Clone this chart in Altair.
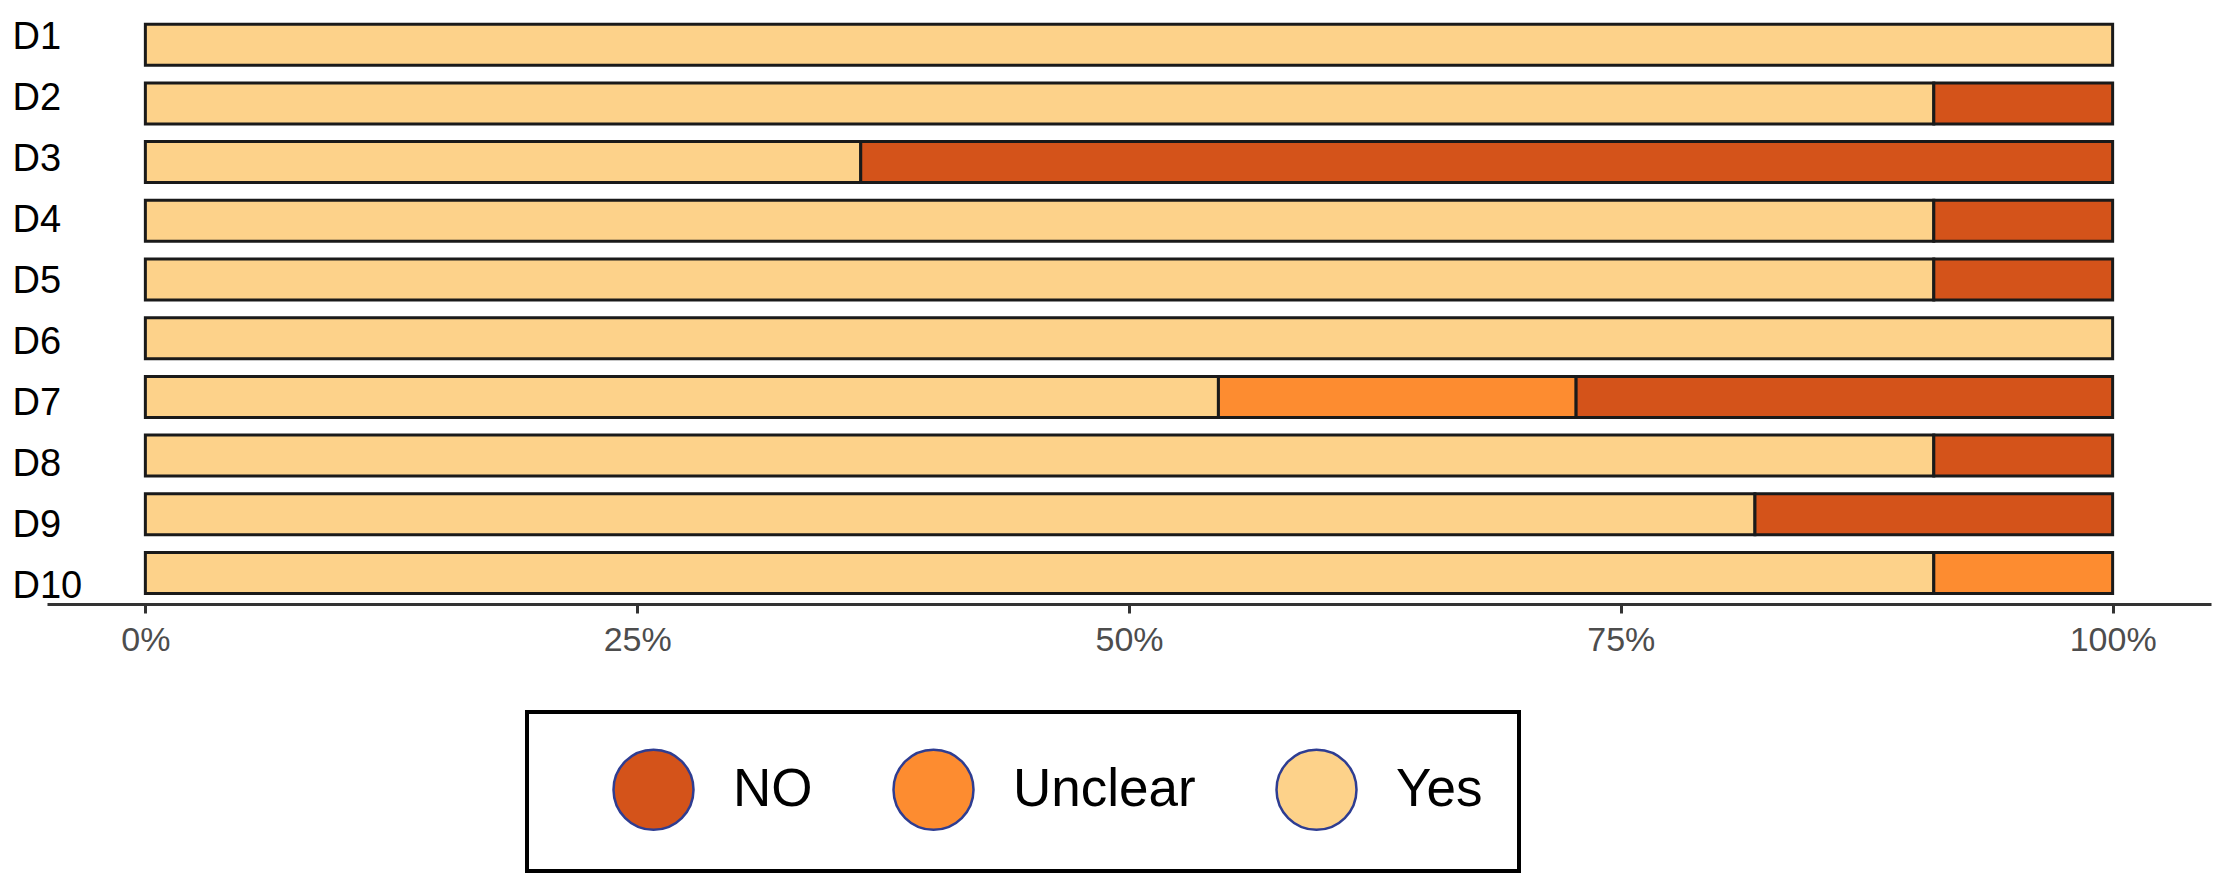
import altair as alt
import pandas as pd

# ---- data (11 assessed items per domain) ----
categories = ["D1", "D2", "D3", "D4", "D5", "D6", "D7", "D8", "D9", "D10"]
yes_counts = [11, 10, 4, 10, 10, 11, 6, 10, 9, 10]
unclear_counts = [0, 0, 0, 0, 0, 0, 2, 0, 0, 1]
no_counts = [0, 1, 7, 1, 1, 0, 3, 1, 2, 0]
responses = ["NO", "Unclear", "Yes"]
colors = ["#D4531A", "#FD8C30", "#FDD28A"]
x_ticks = [0, 0.25, 0.5, 0.75, 1.0]

rows = []
for i, c in enumerate(categories):
    for resp, counts, rank in (("Yes", yes_counts, 0),
                               ("Unclear", unclear_counts, 1),
                               ("NO", no_counts, 2)):
        if counts[i] > 0:
            rows.append({"domain": c, "response": resp, "n": counts[i], "rank": rank})
df = pd.DataFrame(rows)
labels_df = pd.DataFrame({"domain": categories})

FONT = "Liberation Sans"

labels = alt.Chart(labels_df).mark_point(opacity=0).encode(
    y=alt.Y(
        "domain:N",
        sort=categories,
        scale=alt.Scale(type="point", range=[40, 589], padding=0),
        axis=alt.Axis(
            orient="left", title=None, domain=False, ticks=False, tickSize=0,
            labelAlign="left", labelBaseline="alphabetic", labelPadding=35,
            labelFontSize=38, labelFont=FONT, labelColor="black",
        ),
    )
)

bars = alt.Chart(df).mark_bar(stroke="#1a1a1a", strokeWidth=3).encode(
    x=alt.X(
        "n:Q",
        stack="normalize",
        scale=alt.Scale(domain=[-0.05, 1.05], nice=False, zero=False),
        axis=alt.Axis(
            values=x_ticks, format="%", title=None, grid=False,
            domainColor="#333333", domainWidth=3,
            tickColor="#333333", tickWidth=3, tickSize=9,
            labelFontSize=34, labelFont=FONT, labelColor="#4D4D4D",
            labelPadding=10, labelFlush=False,
        ),
    ),
    y=alt.Y(
        "domain:N",
        sort=categories,
        scale=alt.Scale(range=[7.35, 594.35], paddingInner=0.3015, paddingOuter=0.1508),
        axis=None,
    ),
    color=alt.Color(
        "response:N",
        scale=alt.Scale(domain=responses, range=colors),
        legend=alt.Legend(
            orient="none", legendX=480, legendY=704, direction="horizontal",
            title=None, symbolType="circle", symbolSize=6400,
            symbolStrokeColor="#2E3D92", symbolStrokeWidth=2.5, symbolOpacity=1,
            symbolOffset=49,
            labelFontSize=53, labelFont=FONT, labelColor="black", labelLimit=600,
            labelOffset=38, columnPadding=30, padding=36,
            strokeColor="black",
        ),
    ),
    order=alt.Order("rank:Q"),
)

chart = (
    alt.layer(labels, bars)
    .resolve_scale(y="independent")
    .properties(
        width=2164,
        height=596,
        autosize=alt.AutoSizeParams(type="none"),
        padding={"left": 39, "top": 0, "right": 13, "bottom": 273},
        background="white",
    )
    .configure_view(stroke=None)
    .configure_legend(strokeWidth=4)
)

chart.save("out.html", embed_options={"renderer": "svg", "actions": False})
